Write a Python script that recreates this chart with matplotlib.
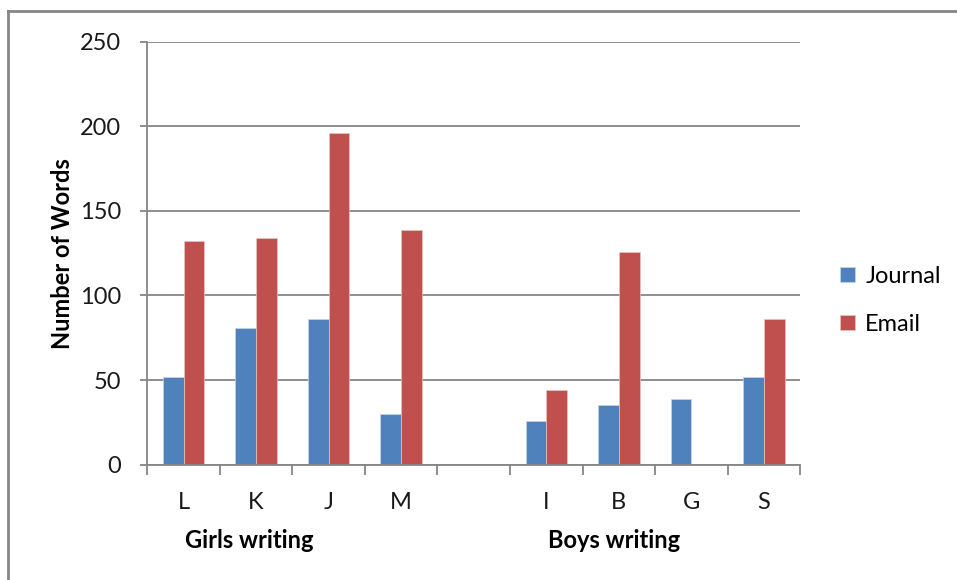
import matplotlib.pyplot as plt
import numpy as np
from matplotlib.lines import Line2D

plt.rcParams['font.family'] = ['Lato', 'DejaVu Sans']

names = ['L', 'K', 'J', 'M', '', 'I', 'B', 'G', 'S']
journal = [52, 81, 86, 30, 0, 26, 35, 39, 52]
email = [132, 134, 196, 139, 0, 44, 126, 0, 86]
groups = ['Girls writing', 'Boys writing']

blue = '#4f81bd'
red = '#c0504d'
grey = '#868686'

fig = plt.figure(figsize=(9.57, 5.8), dpi=100)
ax = fig.add_axes([0.1539, 0.1988, 0.6822, 0.7293])

x = np.arange(len(names))
w = 1 / 3.5  # Excel-style gap width of 150%
ax.bar(x - w / 2, journal, w, color=blue, edgecolor='#c6d4e8', linewidth=0.5, label='Journal')
ax.bar(x + w / 2, email, w, color=red, edgecolor='#e8c4c3', linewidth=0.5, label='Email')

ax.set_xlim(-0.5, len(names) - 0.5)
ax.set_ylim(0, 250)
ax.set_yticks(range(0, 251, 50))
ax.yaxis.grid(True, color=grey, linewidth=1.3)
ax.set_axisbelow(True)

ax.set_xticks(x)
ax.set_xticklabels(names)
ax.set_xticks(np.arange(-0.5, len(names)), minor=True)
ax.tick_params(axis='x', which='major', length=0, pad=20, labelsize=17, colors='#1a1a1a')
ax.tick_params(axis='x', which='minor', length=7, width=1.3, color=grey)
ax.tick_params(axis='y', length=5, width=1.3, color=grey, labelsize=17, labelcolor='#1a1a1a', pad=14)

for s in ['top', 'right']:
    ax.spines[s].set_visible(False)
for s in ['left', 'bottom']:
    ax.spines[s].set_color(grey)
    ax.spines[s].set_linewidth(1.3)

ax.set_ylabel('Number of Words', fontsize=17, fontweight='bold', labelpad=4)

# group captions under the category labels
ax.text(0.91, -0.18, groups[0], transform=ax.get_xaxis_transform(),
        ha='center', va='center', fontsize=17, fontweight='bold')
ax.text(5.94, -0.18, groups[1], transform=ax.get_xaxis_transform(),
        ha='center', va='center', fontsize=17, fontweight='bold')

fig.legend(loc='center left', bbox_to_anchor=(0.856, 0.482), frameon=False,
           fontsize=17, handlelength=0.6, handleheight=0.6, handletextpad=0.45,
           labelspacing=1.15)

# outer chart border (top and left edges)
fig.add_artist(Line2D([8 / 957, 1], [1 - 11 / 580, 1 - 11 / 580], transform=fig.transFigure,
                      color=grey, linewidth=2))
fig.add_artist(Line2D([8 / 957, 8 / 957], [0, 1 - 11 / 580], transform=fig.transFigure,
                      color=grey, linewidth=2))

fig.savefig('out.png', dpi=100)
